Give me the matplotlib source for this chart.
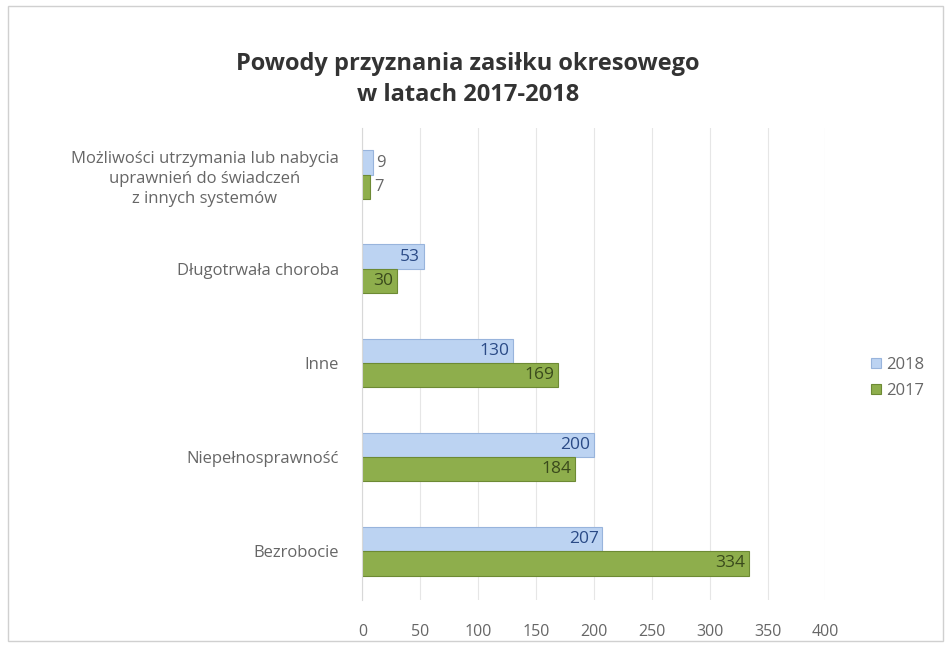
import numpy as np
import matplotlib
matplotlib.use("Agg")
import matplotlib.pyplot as plt

categories = ["Bezrobocie", "Niepełnosprawność", "Inne", "Długotrwała choroba",
              "Możliwości utrzymania lub nabycia\nuprawnień do świadczeń\nz innych systemów"]
vals_2018 = [207, 200, 130, 53, 9]
vals_2017 = [334, 184, 169, 30, 7]
xticks = [0, 50, 100, 150, 200, 250, 300, 350, 400]

plt.rcParams["font.family"] = ["Open Sans", "DejaVu Sans"]

fig = plt.figure(figsize=(9.51, 6.49), dpi=100)
fig.patches.append(plt.Rectangle((0.008, 0.012), 0.984, 0.978, transform=fig.transFigure,
                                 fill=False, edgecolor="#d0d0d0", lw=1))
ax = fig.add_axes([0.381, 0.0755, 0.487, 0.7275])

y = np.arange(len(categories))
h = 0.26
c18, c17 = "#bcd3f2", "#8eae4c"
b18 = ax.barh(y + h / 2, vals_2018, height=h, color=c18, edgecolor="#98b4dc", lw=0.8, label="2018")
b17 = ax.barh(y - h / 2, vals_2017, height=h, color=c17, edgecolor="#6d8a34", lw=0.8, label="2017")

for bars, vals, col in [(b18, vals_2018, "#2a4a86"), (b17, vals_2017, "#3a4a1c")]:
    for b, v in zip(bars, vals):
        yc = b.get_y() + b.get_height() / 2
        if v < 20:
            ax.text(v + 3, yc, str(v), va="center", ha="left", fontsize=12, color="#666666")
        else:
            ax.text(v - 3, yc, str(v), va="center", ha="right", fontsize=12.5, color=col)

ax.set_xlim(0, 400)
ax.set_ylim(-0.52, 4.5)
ax.set_xticks(xticks)
ax.set_yticks(y)
ax.set_yticklabels(categories, fontsize=12, color="#666666", linespacing=1.35)
for t in ax.get_yticklabels():
    t.set_multialignment("center")
ax.tick_params(axis="x", labelsize=11.5, colors="#666666", length=0, pad=17)
ax.tick_params(axis="y", length=0, pad=17)
ax.grid(axis="x", color="#e6e6e6", lw=0.8)
ax.set_axisbelow(True)
for s in ["top", "right", "bottom"]:
    ax.spines[s].set_visible(False)
ax.spines["left"].set_color("#d8d8d8")

fig.text(0.492, 0.878, "Powody przyznania zasiłku okresowego\nw latach 2017-2018",
         ha="center", va="center", fontsize=17, fontweight="bold", color="#333333", linespacing=1.4)

leg = fig.legend(handles=[b18, b17], loc="center left", bbox_to_anchor=(0.9, 0.418),
                 frameon=False, fontsize=12, handlelength=0.6, handleheight=0.6,
                 handletextpad=0.3, labelspacing=0.6)
for t in leg.get_texts():
    t.set_color("#666666")

fig.savefig("out.png", dpi=100)
